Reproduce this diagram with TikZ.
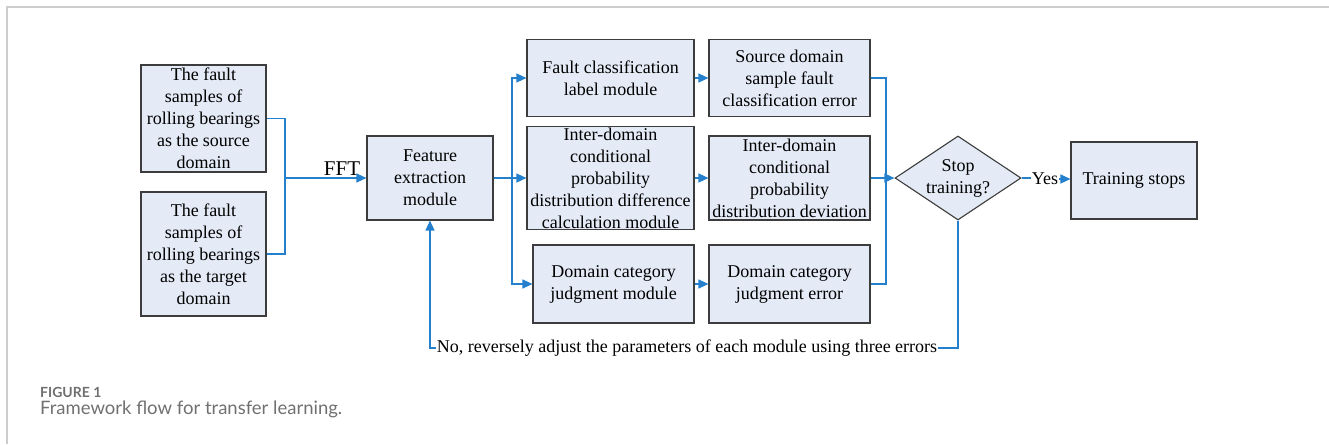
\documentclass[tikz,border=0pt]{standalone}
\usepackage{fontspec}
\setmainfont{Liberation Serif}
\newfontfamily\capfont{Lato}
\usetikzlibrary{positioning}
\usetikzlibrary{shapes.geometric}
\usetikzlibrary{arrows.meta}

\definecolor{flowblue}{RGB}{36,128,204}
\definecolor{boxfill}{RGB}{228,235,246}
\definecolor{boxline}{RGB}{60,60,60}
\definecolor{capgray}{RGB}{112,112,112}
\definecolor{framegray}{RGB}{205,205,205}

\begin{document}
\begin{tikzpicture}[x = 1pt, y = -1pt,
		block/.style = {draw = boxline, line width = 1.1pt, fill = boxfill, align = center, inner sep = 0pt, font = \fontsize{18}{22}\selectfont},
		decision/.style = {block, shape = diamond, shape aspect = 1.5, inner sep = -4pt, minimum width = 126pt, minimum height = 84pt},
		txt/.style = {inner sep = 1pt, font = \fontsize{18}{22}\selectfont},
		flow/.style = {flowblue, line width = 1.3pt},
		arr/.style = {flow, -{Triangle[length = 10pt, width = 9pt]}}]
	\useasboundingbox (0, 0) rectangle (1329, 444);
	\draw [framegray, line width = 1.5pt] (7, 444) -- (7, 7) -- (1329, 7);

	% inputs
	\node [block, minimum width = 125pt, minimum height = 107pt] (src) at (203.5, 118.5) {The fault\\samples of\\rolling bearings\\as the source\\domain};
	\node [block, minimum width = 125pt, minimum height = 124pt] (tgt) at (203.5, 254) {The fault\\samples of\\rolling bearings\\as the target\\domain};
	\node [block, minimum width = 126pt, minimum height = 84pt] (feat) at (430, 178) {Feature\\extraction\\module};

	% modules
	\node [block, minimum width = 167pt, minimum height = 77pt] (fcl) at (610.5, 78) {Fault classification\\label module};
	\node [block, minimum width = 167pt, minimum height = 103pt] (idm) at (610.5, 178) {Inter-domain\\conditional\\probability\\distribution difference\\calculation module};
	\node [block, minimum width = 161pt, minimum height = 78pt] (dcm) at (613.5, 284) {Domain category\\judgment module};

	% errors
	\node [block, minimum width = 161pt, minimum height = 77pt] (sde) at (789.5, 78) {Source domain\\sample fault\\classification error};
	\node [block, minimum width = 161pt, minimum height = 84pt] (idd) at (789.5, 178) {Inter-domain\\conditional\\probability\\distribution deviation};
	\node [block, minimum width = 161pt, minimum height = 78pt] (dce) at (789.5, 284) {Domain category\\judgment error};

	\node [decision] (stop) at (958, 178) {Stop\\training?};
	\node [block, minimum width = 126pt, minimum height = 77pt] (stops) at (1134, 180.5) {Training stops};

	\node [txt, anchor = base, font = \fontsize{21}{24}\selectfont] (fft) at (342, 175) {FFT};
	\node [txt] (yes) at (1045, 179) {Yes};
	\node [txt] (no) at (687, 348) {No, reversely adjust the parameters of each module using three errors};

	\coordinate (join) at (285, 178);
	\coordinate (split) at (512, 178);
	\coordinate (merge) at (886, 178);

	\draw [flow] (src.east) -| (join);
	\draw [flow] (tgt.east) -| (join);
	\draw [arr] (join) -- (feat.west);
	\draw [flow] (feat.east) -- (split);
	\draw [arr] (split) |- (fcl.west);
	\draw [arr] (split) -- (idm.west);
	\draw [arr] (split) |- (dcm.west);
	\draw [arr] (fcl.east) -- (sde.west);
	\draw [arr] (idm.east) -- (idd.west);
	\draw [arr] (dcm.east) -- (dce.west);
	\draw [flow] (sde.east) -| (merge);
	\draw [flow] (dce.east) -| (merge);
	\draw [arr] (idd.east) -- (stop.west);
	\draw [flow] (stop.east) -- (stop.east -| yes.west);
	\draw [arr] (yes.east) -- (stops.west |- yes.east);
	\draw [flow] (stop.south) |- (no.east);
	\draw [arr] (no.west) -| (feat.south);

	% caption
	\node [anchor = base west, inner sep = 0pt, text = capgray, font = \capfont\bfseries\fontsize{14}{16}\selectfont] (fig) at (40, 397) {FIGURE 1};
	\node [anchor = base west, inner sep = 0pt, text = capgray, font = \capfont\fontsize{18.5}{21}\selectfont] (cap) at (40, 414) {Framework flow for transfer learning.};
\end{tikzpicture}
\end{document}
